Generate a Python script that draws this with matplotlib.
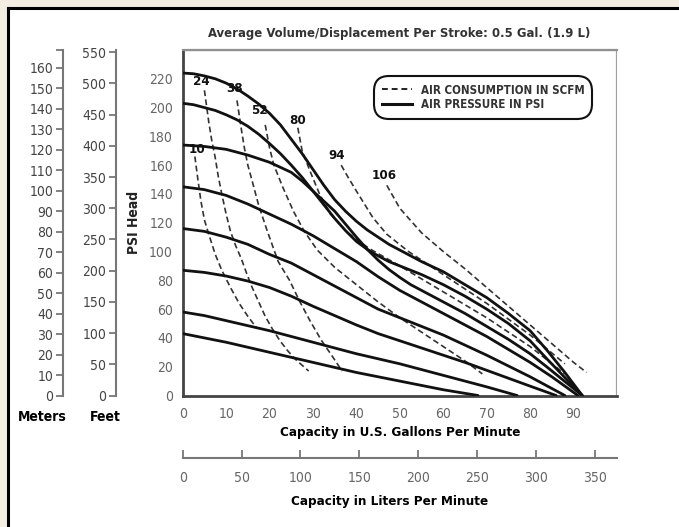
import matplotlib
matplotlib.use("Agg")
import matplotlib.pyplot as plt
from matplotlib.lines import Line2D
from matplotlib.patches import Rectangle

plt.rcParams['font.family'] = ['DejaVu Sans']
plt.rcParams['font.stretch'] = 'condensed'

W, H = 679, 527
DPI = 100

# ---------------- data ----------------
# Air pressure curves (solid): psi head vs gpm
p224_x = [0, 2.5, 5, 7.5, 10, 12.5, 15, 17.5, 20, 22.5, 25, 27.5, 30, 32.5, 35, 37.5, 40, 42.5, 45, 47.5, 50, 55, 60, 65, 70, 75, 80, 84, 88, 92]
p224_y = [224, 223.5, 222, 220, 217, 213, 208, 202.5, 196, 188, 178, 168, 157, 146, 136, 128, 121, 115, 110, 105, 101, 93, 86, 77, 68, 57, 45, 31, 16, 0]
p203_x = [0, 2.5, 5, 7.5, 10, 12.5, 15, 17.5, 20, 22.5, 25, 27.5, 30, 32.5, 35, 37.5, 40, 42.5, 45, 47.5, 50, 55, 60, 65, 70, 75, 80, 84, 88, 92]
p203_y = [203, 202, 200, 198, 195, 191.5, 187, 181.5, 175, 168, 160, 151.5, 142, 132.5, 123, 114.5, 107, 101.5, 97, 93, 90, 84, 77, 69, 60, 50, 38, 25, 12.5, 0]
p174_x = [0, 5, 10, 12.5, 15, 17.5, 20, 22.5, 25, 27.5, 30, 32.5, 35, 37.5, 40, 42.5, 45, 47.5, 50, 52.5, 55, 60, 65, 70, 75, 80, 84, 88, 92]
p174_y = [174, 173, 171, 169, 167, 164.5, 162, 158.5, 155, 149, 142, 135, 128, 119, 110, 101.5, 94, 87.5, 82, 77, 73, 65, 57, 48, 39, 29, 19.5, 9.7, 0]
p145_x = [0, 5, 10, 15, 20, 25, 30, 35, 40, 45, 50, 55, 60, 65, 70, 75, 80, 85, 91]
p145_y = [145, 143, 139, 133, 126, 119, 111, 102, 93, 82.5, 73, 65, 57, 49, 41, 32, 23, 13, 0]
p116_x = [0, 5, 10, 15, 20, 25, 30, 35, 40, 45, 50, 55, 60, 65, 70, 75, 80, 88]
p116_y = [116, 114, 110, 105, 98, 92, 84, 76, 68, 60, 54, 48, 42, 35, 28, 20.5, 13, 0]
p87_x = [0, 5, 10, 15, 20, 25, 30, 35, 40, 45, 50, 57, 65, 70, 75, 80, 86]
p87_y = [87, 85.5, 83, 79.5, 75, 69, 62, 55.5, 49, 43, 38, 31, 23, 17.5, 12, 6.5, 0]
p58_x = [0, 5, 10, 15, 20, 25, 30, 35, 40, 45, 50, 55, 60, 65, 70, 77]
p58_y = [58, 55.5, 52, 48.5, 45, 41, 37, 33, 29, 25.5, 22, 18, 14, 10, 6, 0]
p43_x = [0, 5, 10, 15, 20, 25, 30, 35, 40, 45, 50, 55, 60, 64, 68]
p43_y = [43, 40, 37, 33.5, 30, 26.5, 23, 19.5, 16, 13, 10, 7, 4, 2, 0]

# Air consumption curves (dashed): SCFM
scfm_labels = ["10", "24", "38", "52", "80", "94", "106"]
scfm_label_pos_x = [3.2, 4.4, 12.0, 17.6, 26.4, 35.5, 46.5]
scfm_label_pos_y = [171, 218, 213, 198, 191, 167, 153]
a10_x = [2.8, 3.5, 4.2, 5.0, 6.0, 7.5, 9.0, 11.0, 13.0, 15.0, 17.0]
a10_y = [166, 150, 135, 122, 112, 98, 87, 75, 64, 55, 47]
a24_x = [5.0, 5.5, 6.0, 6.7, 7.5, 8.2, 9.0, 10.0, 11.0, 12.2, 13.5, 14.7, 16.0, 17.5, 19.0, 20.7, 22.4, 24.2, 26.0, 27.5, 29.0]
a24_y = [212, 201, 190, 177, 165, 152, 140, 126, 114, 104, 95, 85, 75, 65, 55, 46, 38, 31, 25, 21, 17]
a38_x = [12.5, 13.0, 13.5, 14.2, 15.0, 16.0, 17.5, 19.5, 22.0, 24.6, 27.0, 29.3, 32.0, 34.5, 36.7]
a38_y = [205, 195, 185, 172, 160, 149, 132, 114, 93, 80, 65, 52, 38, 27, 17]
a52_x = [19, 20, 21, 23, 25.5, 28, 31, 35, 40, 45, 50, 55, 60, 65, 69]
a52_y = [188, 172, 160, 145, 128, 114, 101, 89, 77, 65, 54, 44, 34, 24, 15]
a80_x = [26.5, 27.5, 29.3, 31.5, 34, 38, 43, 50, 60, 70, 80, 88]
a80_y = [186, 170, 156, 140, 126, 113, 102, 90, 72, 54, 34, 15]
a94_x = [36.5, 38, 40, 43.8, 47, 52, 60, 70, 80, 88]
a94_y = [160, 152, 142, 123.5, 112, 100, 84, 64, 42, 22]
a106_x = [47, 48.5, 50, 55, 60, 65, 70, 75, 80, 85, 90, 93]
a106_y = [146, 138, 130, 113, 100, 88, 75, 62, 49, 36, 23, 16]

gpm_ticks = [0, 10, 20, 30, 40, 50, 60, 70, 80, 90]
psi_ticks = [0, 20, 40, 60, 80, 100, 120, 140, 160, 180, 200, 220]
meter_ticks = list(range(0, 161, 10))
feet_ticks = list(range(0, 551, 50))
liter_ticks = [0, 50, 100, 150, 200, 250, 300, 350]

title = "Average Volume/Displacement Per Stroke: 0.5 Gal. (1.9 L)"

# ---------------- figure ----------------
fig = plt.figure(figsize=(W / DPI, H / DPI), dpi=DPI)
fig.patch.set_facecolor('white')

def fx(px):
    return px / W

def fy(py):
    return 1 - py / H

# outer frame / background strips
fig.patches.append(Rectangle((0, 0), fx(7), 1, transform=fig.transFigure,
                             facecolor='#f4ede1', edgecolor='none', zorder=0))
fig.patches.append(Rectangle((0, fy(7)), 1, 7 / H, transform=fig.transFigure,
                             facecolor='#f4ede1', edgecolor='none', zorder=0))
fig.add_artist(Line2D([fx(8), fx(8)], [0, fy(8)], transform=fig.transFigure,
                      color='black', lw=2.2))
fig.add_artist(Line2D([fx(8), 1], [fy(8), fy(8)], transform=fig.transFigure,
                      color='black', lw=2.2))

# main axes
L, R, T, B = 182.7, 617, 50, 395.5
ax = fig.add_axes([fx(L), fy(B), fx(R - L), (B - T) / H])
ax.set_xlim(0, 100)
ax.set_ylim(0, 240)
ax.set_xticks(gpm_ticks)
ax.set_yticks(psi_ticks)
ax.set_xticks(list(range(10, 101, 10)), minor=True)
ax.set_yticks(list(range(20, 241, 20)), minor=True)
ax.grid(True, which='minor', color='#a0a0a0', lw=1.6, zorder=0)
ax.tick_params(which='both', length=0)
ax.tick_params(axis='x', labelsize=10, labelcolor='#666666', pad=8)
ax.tick_params(axis='y', labelsize=10, labelcolor='#666666', pad=7)
for s in ['left', 'bottom']:
    ax.spines[s].set_color('#444444')
    ax.spines[s].set_linewidth(2.0)
ax.spines['top'].set_color('#909090')
ax.spines['top'].set_linewidth(1.6)
ax.spines['right'].set_visible(False)

solid_kw = dict(color='#111111', lw=2.0, solid_capstyle='round', solid_joinstyle='round', zorder=3)
for xs, ys in [(p224_x, p224_y), (p203_x, p203_y), (p174_x, p174_y), (p145_x, p145_y),
               (p116_x, p116_y), (p87_x, p87_y), (p58_x, p58_y), (p43_x, p43_y)]:
    ax.plot(xs, ys, **solid_kw)

dash_kw = dict(color='#333333', lw=1.2, dashes=(3.5, 2.0), zorder=2)
for xs, ys in [(a10_x, a10_y), (a24_x, a24_y), (a38_x, a38_y), (a52_x, a52_y),
               (a80_x, a80_y), (a94_x, a94_y), (a106_x, a106_y)]:
    ax.plot(xs, ys, **dash_kw)

for lab, lx, ly in zip(scfm_labels, scfm_label_pos_x, scfm_label_pos_y):
    ax.text(lx, ly, lab, ha='center', va='center', fontsize=9.5, fontweight='bold',
            color='#111111', zorder=4)

ax.set_xlabel("Capacity in U.S. Gallons Per Minute", fontsize=9.6, fontweight='bold',
              color='black', labelpad=4)
ax.set_ylabel("PSI Head", fontsize=10, fontweight='bold', color='#222222', labelpad=6)

# legend
handles = [Line2D([], [], color='#222222', lw=1.4, dashes=(3, 2)),
           Line2D([], [], color='#111111', lw=2.2)]
leg = ax.legend(handles, ["AIR CONSUMPTION IN SCFM", "AIR PRESSURE IN PSI"],
                loc='upper left', bbox_to_anchor=((370 - L) / (R - L), 1 - (72 - T) / (B - T)),
                frameon=True, fancybox=True, handlelength=2.6,
                handletextpad=0.8, borderpad=0.5, labelspacing=0.15,
                prop={'weight': 'bold', 'size': 8.3, 'stretch': 'condensed'})
fr = leg.get_frame()
fr.set_edgecolor('#111111')
fr.set_linewidth(1.5)
fr.set_facecolor('white')
fr.set_alpha(1)
fr.set_boxstyle('round,pad=0.15,rounding_size=1.3')
for t in leg.get_texts():
    t.set_color('#333333')

# title
fig.text(fx(399), fy(33), title, ha='center', va='center', fontsize=9.4,
         fontweight='bold', color='#333333')

# meters axis
axm = fig.add_axes([fx(63), fy(B), 0.0001, (B - T) / H])
axm.set_ylim(0, 240 * 0.7031)
axm.set_yticks(meter_ticks)
axm.set_yticks([240 * 0.7031], minor=True)
axm.set_xticks([])
axm.patch.set_visible(False)
for s in ['top', 'right', 'bottom']:
    axm.spines[s].set_visible(False)
axm.spines['left'].set_color('#777777')
axm.spines['left'].set_linewidth(1.5)
axm.tick_params(axis='y', which='both', direction='out', length=5, width=1.3,
                color='#777777', labelsize=10, labelcolor='#444444', pad=2)

# feet axis
axf = fig.add_axes([fx(116), fy(B), 0.0001, (B - T) / H])
axf.set_ylim(0, 240 * 2.3067)
axf.set_yticks(feet_ticks)
axf.set_xticks([])
axf.patch.set_visible(False)
for s in ['top', 'right', 'bottom']:
    axf.spines[s].set_visible(False)
axf.spines['left'].set_color('#777777')
axf.spines['left'].set_linewidth(1.5)
axf.tick_params(axis='y', direction='out', length=5, width=1.3,
                color='#777777', labelsize=10, labelcolor='#444444', pad=2)

fig.text(fx(42), fy(417), "Meters", ha='center', va='center', fontsize=10,
         fontweight='bold', color='black')
fig.text(fx(105), fy(417), "Feet", ha='center', va='center', fontsize=10,
         fontweight='bold', color='black')

# liters axis
LY = 458
axl = fig.add_axes([fx(L), fy(LY), fx(R - L), 0.0001])
axl.set_xlim(0, 369)
axl.set_xticks(liter_ticks)
axl.set_yticks([])
axl.patch.set_visible(False)
for s in ['top', 'right', 'left']:
    axl.spines[s].set_visible(False)
axl.spines['bottom'].set_color('#777777')
axl.spines['bottom'].set_linewidth(1.5)
axl.tick_params(axis='x', direction='in', length=6, width=1.3, color='#777777',
                labelsize=10, labelcolor='#666666', pad=9)
fig.text(fx(390), fy(501), "Capacity in Liters Per Minute", ha='center', va='center',
         fontsize=9.6, fontweight='bold', color='black')

fig.savefig("out.png", dpi=DPI)
